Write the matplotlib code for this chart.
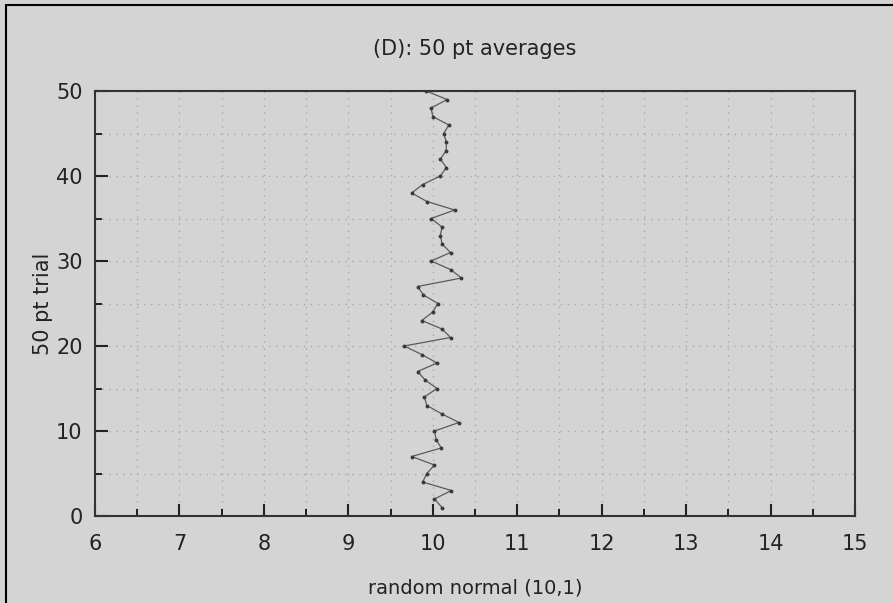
import matplotlib.pyplot as plt
from matplotlib.ticker import MultipleLocator
from matplotlib.patches import Rectangle

# 50 pt averages, one per trial
trial = list(range(1, 51))
avg = [10.11, 10.02, 10.22, 9.88, 9.93, 10.02, 9.75, 10.10, 10.04, 10.02,
       10.31, 10.11, 9.93, 9.90, 10.05, 9.91, 9.82, 10.05, 9.87, 9.66,
       10.21, 10.11, 9.87, 10.00, 10.06, 9.89, 9.82, 10.34, 10.21, 9.98,
       10.21, 10.11, 10.09, 10.11, 9.98, 10.26, 9.93, 9.75, 9.88, 10.09,
       10.16, 10.09, 10.16, 10.16, 10.13, 10.19, 10.00, 9.98, 10.17, 9.92]

bg = '#d4d4d4'
txt = '#222222'
fig = plt.figure(figsize=(8.93, 6.03), dpi=100, facecolor=bg)
ax = fig.add_axes([95 / 893, 1 - 516 / 603, 760 / 893, 425 / 603])
ax.set_facecolor(bg)

ax.plot(avg, trial, color='#5a5a5a', lw=0.9, marker='o', ms=1.8,
        markerfacecolor='#3a3a3a', markeredgecolor='#3a3a3a')

ax.set_xlim(6, 15)
ax.set_ylim(0, 50)
ax.xaxis.set_major_locator(MultipleLocator(1))
ax.xaxis.set_minor_locator(MultipleLocator(0.5))
ax.yaxis.set_major_locator(MultipleLocator(10))
ax.yaxis.set_minor_locator(MultipleLocator(5))
ax.tick_params(which='major', direction='in', length=9, width=1.5,
               labelsize=15, colors=txt, top=False, right=False)
ax.tick_params(which='minor', direction='in', length=5, width=1.2,
               top=False, right=False)
ax.tick_params(axis='x', which='major', pad=13)
ax.tick_params(axis='y', which='major', pad=9)
ax.grid(which='both', color='#a8a8a8', linestyle=(0, (1, 4)), lw=1)
for s in ax.spines.values():
    s.set_color('#333333')
    s.set_linewidth(1.5)

ax.set_title('(D): 50 pt averages', fontsize=15, color=txt, pad=26)
ax.set_xlabel('random normal (10,1)', fontsize=14, color=txt)
ax.xaxis.set_label_coords(0.5, -63 / 425)
ax.set_ylabel('50 pt trial', fontsize=15, color=txt)
ax.yaxis.set_label_coords(-42 / 760, 0.5)

# outer frame on left and top
fig.patches.append(Rectangle((6 / 893, -0.1), 1.2, 1.1 - 5 / 603,
                             transform=fig.transFigure, fill=False,
                             edgecolor='black', lw=1.5))

fig.savefig('out.png', dpi=100, facecolor=bg)
